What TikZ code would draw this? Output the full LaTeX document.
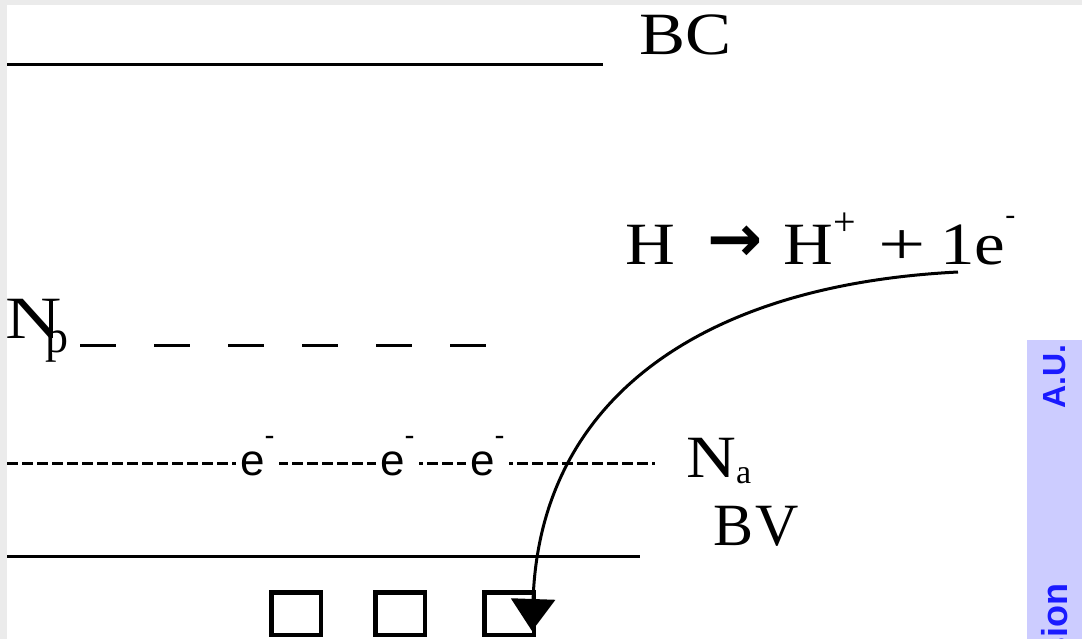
\documentclass[tikz,border=0pt]{standalone}
\usepackage{graphicx}
\usepackage{fontspec}
\setmainfont{Liberation Serif}
\newfontfamily\sansf{Liberation Sans}
\newfontfamily\symf{DejaVu Sans}
\usetikzlibrary{arrows.meta}
\definecolor{framegray}{HTML}{EBEBEB}
\definecolor{stripblue}{HTML}{CCCCFF}
\definecolor{textblue}{HTML}{1A1AFF}
\newcommand\hwide[1]{\scalebox{1.15}[1]{#1}}
\begin{document}
\begin{tikzpicture}[x=1pt,y=-1pt,
  lbl/.style={inner sep=0pt, anchor=base west, font=\fontsize{60}{60}\selectfont},
  elec/.style={inner sep=0pt, inner xsep=4pt, anchor=base west, fill=white, font=\sansf\fontsize{44}{44}\selectfont},
  band/.style={line width=3pt},
  levelp/.style={line width=3pt, dash pattern=on 36pt off 38pt},
  levela/.style={line width=3pt, dash pattern=on 11pt off 4pt},
  cell/.style={draw, line width=4.5pt, minimum width=49.5pt, minimum height=42.5pt, inner sep=0pt},
  strip/.style={rotate=90, anchor=base east, inner sep=0pt, text=textblue}]
\useasboundingbox (0,0) rectangle (1082,639);
\fill[framegray] (0,0) rectangle (1082,639);
\fill[white] (7,5) rectangle (1082,639);
\fill[stripblue] (1027,340) rectangle (1082,639);
% bands
\coordinate (bcl) at (7,65); \coordinate (bcr) at (603,65);
\draw[band] (bcl) -- (bcr);
\coordinate (bvl) at (7,556); \coordinate (bvr) at (640,556);
\draw[band] (bvl) -- (bvr);
% donor level
\coordinate (npl) at (80,345); \coordinate (npr) at (487,345);
\draw[levelp] (npl) -- (npr);
% acceptor level
\coordinate (nal) at (7,463); \coordinate (nar) at (655,463);
\draw[levela] (nal) -- (nar);
\node[elec] (e1) at (236,475) {e\raisebox{30pt}{\fontsize{30}{30}\selectfont -}};
\node[elec] (e2) at (376,475) {e\raisebox{30pt}{\fontsize{30}{30}\selectfont -}};
\node[elec] (e3) at (466,475) {e\raisebox{30pt}{\fontsize{30}{30}\selectfont -}};
% labels
\node[lbl] (bc) at (639,55) {\hwide{BC}};
\node[lbl] (np) at (5,338) {\scalebox{1.3}[1]{N}\kern-16pt\raisebox{-14pt}{\fontsize{46}{46}\selectfont p}};
\node[lbl] (na) at (686,477) {\hwide{N}\raisebox{-6pt}{\fontsize{34}{34}\selectfont a}};
\node[lbl] (bv) at (713,545) {B\hspace{2pt}V};
\node[lbl] (eq) at (625,265) {\makebox[82pt][l]{\hwide{H}}\makebox[76pt][l]{\raisebox{3pt}{\symf\bfseries\fontsize{66}{66}\selectfont →}}\makebox[95pt][l]{\hwide{H}\raisebox{29pt}{\fontsize{40}{40}\selectfont +}}\makebox[62pt][l]{\scalebox{1.4}[1]{+}}\hwide{1e}\raisebox{40pt}{\fontsize{30}{30}\selectfont -}};
% holes
\node[cell] (b1) at (296,613.5) {};
\node[cell] (b2) at (400,613.5) {};
\node[cell] (b3) at (509,613.5) {};
% transition
\coordinate (hstart) at (958,272);
\coordinate (tip) at (532,631);
\draw[line width=3pt, -{Triangle[width=44pt,length=32pt]}] (hstart) .. controls (700,285) and (540,400) .. (tip);
% side strip
\node[strip, font=\sansf\bfseries\fontsize{32}{32}\selectfont] (au) at (1065,344) {A.U.};
\node[strip, font=\sansf\bfseries\fontsize{36}{36}\selectfont] (sion) at (1067,583) {sion};
\end{tikzpicture}
\end{document}
